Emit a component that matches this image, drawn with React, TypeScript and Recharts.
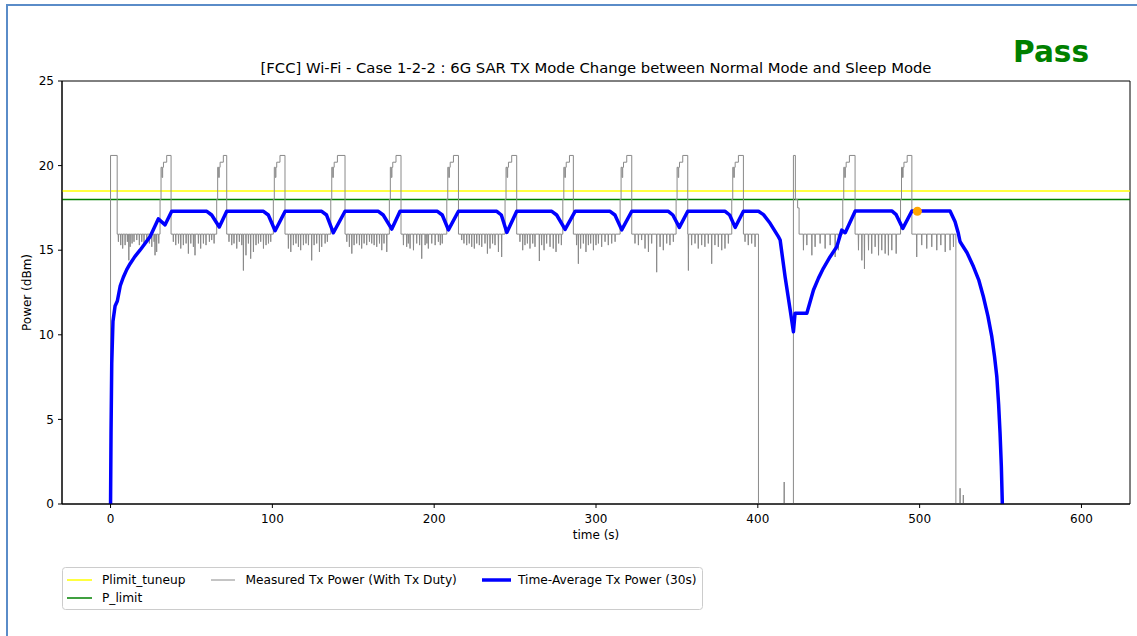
import React from 'react';
import {
  ComposedChart, Line, Scatter, XAxis, YAxis, ReferenceLine, ReferenceArea,
} from 'recharts';

const FONT = 'DejaVu Sans, sans-serif';

const PLIMIT_TUNEUP = 18.5;
const P_LIMIT = 18.0;
const xTicks = [0, 100, 200, 300, 400, 500, 600];
const yTicks = [0, 5, 10, 15, 20, 25];

// Measured Tx power (with Tx duty)
const BASE = 15.95; // normal-mode level between bursts
const firstBurst = { start: 0, end: 4.1, level: 20.6 };
const burstStart = [30.6, 65.6, 100.6, 136.1, 172.3, 207.8, 243.8, 279.5, 314.9, 349.5, 383.9, 452.5, 488.2];
const burstEnd = [37.4, 71.8, 107.8, 144.9, 179.5, 215.0, 251.0, 286.0, 322.1, 356.7, 391.1, 460.1, 495.2];
const burstStepOffset = [0, 0.6, 1.2, 1.6, 2.1, 4.1];
const burstStepLevel = [18.0, 19.9, 19.3, 19.9, 20.2, 20.6];
const offPeriods = [
  { from: 400.4, to: 422.0, back: [[422.0, 20.6], [423.2, 18.0], [424.6, 17.5], [425.5, BASE]] },
  { from: 522.4, to: 531.0, back: [] as number[][] },
];
const offBlips = [[416.3, 1.3], [525.0, 0.93], [527.0, 0.53]];
const dips: number[][] = [
  [4.85, 15.5], [6.3, 15.3], [7.5, 15.1], [9, 15.3], [10.4, 15.5], [11.3, 14.4], [12.1, 15.2], [13.3, 15.4], [14.5, 15.5],
  [16.2, 15.6], [17.8, 15.3], [19.3, 15.5], [20.7, 15.4], [22.4, 15.6], [24, 15.4], [25.5, 15.2], [26.9, 15.5], [27.5, 14.7],
  [28.5, 14.9], [29.8, 15.4],
  [38.8, 15.5], [40.3, 15.3], [42, 15.4], [43.4, 15.1], [45, 15.3], [46.7, 15.4], [48.1, 14.8], [49.6, 15.4], [51.2, 15.2],
  [52.2, 14.7], [54.3, 15.4], [55.7, 15.1], [57.4, 15.4], [59, 15.3], [61.1, 15.5], [62.5, 15.6], [64, 15.4],
  [73.2, 15.5], [74.9, 15.3], [76.3, 15.4], [78, 15.1], [79.6, 15.5], [81.1, 15.3], [82.1, 13.8], [83.7, 14.7], [85.2, 15.4],
  [86.6, 14.5], [88.3, 14.9], [89.9, 15.3], [91.4, 15.4], [92.8, 15.5], [94.5, 15.1], [96.1, 15.3], [97.6, 15.4], [99, 15.5],
  [109.9, 15.1], [111.4, 14.9], [113, 15.3], [114.6, 15.4], [116.1, 15.2], [117.5, 15.0], [119.2, 15.3], [120.8, 15.4],
  [122.3, 15.3], [124.3, 14.4], [125.8, 15.3], [127.4, 15.4], [129.1, 14.9], [130.5, 15.2], [132.6, 15.4], [134, 15.5],
  [146, 15.5], [147.6, 15.2], [149.1, 14.8], [150.5, 15.3], [152.1, 15.4], [153.8, 15.3], [155.2, 15.1], [156.7, 15.4],
  [158.3, 15.3], [160, 15.5], [161.4, 15.4], [162.9, 15.3], [164.5, 15.2], [166.2, 15.4], [167.6, 15.0], [169, 15.4], [170.7, 14.9],
  [181, 15.3], [183, 15.2], [184, 15.4], [185.1, 15.1], [187.2, 15.0], [189.2, 15.4], [191, 15.3], [192.3, 14.5], [194.4, 15.3],
  [195.5, 15.4], [196.4, 15.1], [198.5, 15.4], [200.6, 15.3], [202.6, 15.5], [203.8, 15.3], [205, 15.4],
  [217, 15.6], [218.4, 15.4], [220.1, 15.3], [221.7, 15.4], [223.2, 15.2], [224.8, 15.1], [226.3, 15.4], [227.9, 15.3],
  [229.4, 15.2], [231.4, 15.4], [232.9, 14.8], [234.5, 15.1], [236.1, 15.4], [237.6, 15.3], [239.7, 14.9], [241.7, 14.6],
  [253, 15.5], [254.7, 15.0], [256.1, 15.3], [257.6, 15.4], [259.2, 15.1], [260.9, 15.4], [262.3, 15.2], [265, 14.36],
  [266.4, 15.3], [267.9, 15.0], [269.5, 15.4], [271.6, 15.2], [273.6, 15.1], [275.3, 14.9], [276.9, 15.4], [278.6, 15.3],
  [288, 15.3], [289.1, 14.2], [290.5, 15.1], [292.2, 15.4], [293.8, 14.9], [295.3, 15.3], [296.7, 15.4], [298.4, 15.0],
  [300, 15.3], [301.5, 15.4], [303.5, 15.2], [305.6, 15.5], [307.6, 15.3], [309.7, 15.4], [311.8, 15.5],
  [324.1, 15.4], [326.2, 15.3], [328.2, 15.6], [330.3, 15.1], [332.4, 14.9], [334.4, 15.4], [337.5, 13.7], [339.6, 15.2],
  [341.6, 15.0], [343.7, 15.4], [345.7, 15.3], [347.8, 15.5],
  [357.1, 13.8], [359.1, 15.3], [361.2, 15.4], [363.2, 15.1], [365.3, 15.3], [367.3, 15.2], [369.4, 15.4], [371.5, 14.2],
  [373.5, 15.3], [375.6, 15.2], [377.7, 15.0], [379.7, 15.1], [381.8, 15.4],
  [392.1, 15.5], [394.1, 15.3], [396.2, 15.4], [398.3, 15.2],
  [428.2, 15.0], [430.3, 15.3], [433.4, 14.7], [435.4, 15.2], [438.5, 15.4], [441.6, 15.1], [444.7, 15.3], [447.8, 14.6], [449.8, 15.0],
  [462.2, 15.0], [464.3, 14.4], [465.9, 13.9], [468.4, 15.0], [470.4, 14.8], [472.5, 15.2], [474.6, 14.7], [476.6, 15.0],
  [478.7, 14.8], [480.7, 14.7], [482.8, 15.0], [485.5, 14.8],
  [498.2, 14.6], [501.3, 15.3], [504.4, 15.1], [507.5, 15.2], [510.6, 15.0], [513.1, 15.3], [515.8, 14.9], [518.8, 15.0], [520.9, 15.2],
];

// Time-average Tx power (30s window)
const avgPower: number[][] = [
  [0, 0], [0.3, 4.2], [0.74, 8.3], [1.5, 10.8], [2.8, 11.7], [4.2, 12.0], [6.0, 12.9], [7.9, 13.4], [10.0, 13.85],
  [12.1, 14.2], [15.0, 14.62], [18.2, 15.0], [21.3, 15.4],
  [24.4, 15.8], [29.5, 16.85], [33.7, 16.5], [37.8, 17.3],
  [59.5, 17.3], [62.5, 17.08], [67.2, 16.37], [71.8, 17.3],
  [94.5, 17.3], [97.5, 17.08], [101.7, 16.15], [107.9, 17.3],
  [130.5, 17.3], [133.5, 17.08], [137.7, 16.03], [144.9, 17.3],
  [165.5, 17.3], [168.5, 17.08], [173.8, 16.25], [178.9, 17.3],
  [202, 17.3], [205, 17.08], [208.8, 16.2], [215, 17.3],
  [238.7, 17.3], [241.5, 17.08], [244.9, 16.05], [251, 17.3],
  [272.7, 17.3], [275.7, 17.08], [280.9, 16.23], [287.1, 17.3],
  [308.7, 17.3], [311.7, 17.08], [315.9, 16.2], [322.1, 17.3],
  [344.7, 17.3], [347.5, 17.08], [351.5, 16.35], [356.7, 17.3],
  [379.8, 17.3], [382.6, 17.08], [386, 16.35], [391.1, 17.3],
  [400.4, 17.3], [403.5, 17.1], [407.6, 16.59], [412.7, 15.8], [413.8, 15.6], [416.9, 13.4], [420, 11.47], [422, 10.18],
  [423, 11.27], [430.3, 11.27], [434.4, 12.65], [437.5, 13.35], [440.5, 13.93], [444.6, 14.6], [448.8, 15.2], [451.9, 16.19],
  [454, 16.03], [460.2, 17.32],
  [482.8, 17.32], [485.5, 17.1], [489.6, 16.29], [495.2, 17.32],
  [518.8, 17.32], [521.9, 16.68], [523.9, 16.0], [525, 15.5], [529.3, 14.85], [533.3, 14.02], [536.5, 13.25], [539.4, 12.25],
  [542.2, 11.1], [544.6, 9.89], [546.3, 8.7], [547.7, 7.52], [548.8, 5.9], [549.7, 4.18], [550.5, 2.2], [551.1, 0],
];
const markerPoint = [{ t: 498.6, v: 17.3 }];

type Pt = { t: number; v: number };

function buildMeasured(): Pt[] {
  const pts: Pt[] = [{ t: 0, v: 0 }];
  let cur = 0;
  const stepTo = (t: number, v: number) => {
    pts.push({ t, v: cur });
    pts.push({ t, v });
    cur = v;
  };
  const noise = (a: number, b: number) => {
    dips.filter(([t]) => t > a && t < b).forEach(([t, v]) => {
      pts.push({ t: t - 0.15, v: BASE }, { t, v }, { t: t + 0.15, v: BASE });
    });
  };
  const fillGap = (a: number, b: number) => {
    const off = offPeriods.find((o) => o.from > a && o.from < b);
    if (!off) { noise(a, b); return; }
    noise(a, off.from);
    stepTo(off.from, 0);
    offBlips.filter(([t]) => t > off.from && t < off.to).forEach(([t, v]) => {
      pts.push({ t: t - 0.1, v: 0 }, { t, v }, { t: t + 0.1, v: 0 });
    });
    if (off.back.length) {
      off.back.forEach(([t, v]) => stepTo(t, v));
      noise(off.back[off.back.length - 1][0], b);
    } else {
      pts.push({ t: off.to, v: 0 });
    }
  };

  stepTo(firstBurst.start, firstBurst.level);
  stepTo(firstBurst.end, BASE);
  let from = firstBurst.end;
  burstStart.forEach((s, i) => {
    fillGap(from, s);
    burstStepOffset.forEach((o, k) => stepTo(s + o, burstStepLevel[k]));
    stepTo(burstEnd[i], BASE);
    from = burstEnd[i];
  });
  fillGap(from, 531);
  return pts;
}

const measured = buildMeasured();
const avgData = avgPower.map(([t, v]) => ({ t, v }));

const tickStyle = { fill: '#000', fontSize: 12, fontFamily: FONT };

export default function App() {
  return (
    <div style={{ position: 'absolute', left: 0, top: 0, width: 1137, height: 636, overflow: 'hidden', background: '#fff', fontFamily: FONT }}>
      <div style={{ position: 'absolute', left: 6, top: 4, width: 1300, height: 800, borderLeft: '2px solid #5a8cc8', borderTop: '2px solid #5a8cc8' }} />
      <ComposedChart width={1137} height={636} margin={{ top: 81, right: 7, bottom: 102, left: 0 }}>
        <XAxis
          dataKey="t" type="number" domain={[-30, 630]} ticks={xTicks} allowDataOverflow
          height={30} tick={tickStyle} tickSize={4} tickMargin={6}
          stroke="#000" tickLine={{ stroke: '#000' }} axisLine={{ stroke: '#000' }}
        />
        <YAxis
          type="number" domain={[0, 25]} ticks={yTicks} allowDataOverflow
          width={62} tick={tickStyle} tickSize={4} tickMargin={4}
          stroke="#000" tickLine={{ stroke: '#000' }} axisLine={{ stroke: '#000' }}
        />
        <ReferenceArea x1={-30} x2={630} y1={0} y2={25} fill="none" stroke="#000" strokeWidth={1} />
        <ReferenceLine y={PLIMIT_TUNEUP} stroke="#ffff00" strokeWidth={1.5} />
        <ReferenceLine y={P_LIMIT} stroke="#008000" strokeWidth={1.5} />
        <Line data={measured} dataKey="v" type="linear" stroke="#8a8a8a" strokeWidth={1} dot={false} isAnimationActive={false} />
        <Line data={avgData} dataKey="v" type="linear" stroke="#0000ff" strokeWidth={3.5} strokeLinejoin="round" dot={false} isAnimationActive={false} />
        <Scatter data={markerPoint} dataKey="v" fill="#ffa500" isAnimationActive={false} />
      </ComposedChart>
      <svg width={1137} height={636} style={{ position: 'absolute', left: 0, top: 0, pointerEvents: 'none' }} fontFamily={FONT}>
        <text x={596} y={73} textAnchor="middle" fontSize={14.8} fill="#000">
          [FCC] Wi-Fi - Case 1-2-2 : 6G SAR TX Mode Change between Normal Mode and Sleep Mode
        </text>
        <text x={1013} y={62} fontSize={29.6} fontWeight="bold" fill="#008000">Pass</text>
        <text x={596} y={539} textAnchor="middle" fontSize={12} fill="#000">time (s)</text>
        <text x={30.5} y={292.5} textAnchor="middle" fontSize={12} fill="#000" transform="rotate(-90 30.5 292.5)">Power (dBm)</text>
        <rect x={62.5} y={567.5} width={640} height={42} rx={3} fill="#fff" fillOpacity={0.8} stroke="#cccccc" />
        <line x1={67} x2={92} y1={580} y2={580} stroke="#ffff00" strokeWidth={1.5} />
        <text x={102} y={580} dominantBaseline="central" fontSize={12.2}>Plimit_tuneup</text>
        <line x1={67} x2={92} y1={598} y2={598} stroke="#008000" strokeWidth={1.5} />
        <text x={102} y={598} dominantBaseline="central" fontSize={12.2}>P_limit</text>
        <line x1={211} x2={235} y1={580} y2={580} stroke="#8a8a8a" strokeWidth={1} />
        <text x={245.5} y={580} dominantBaseline="central" fontSize={12.2}>Measured Tx Power (With Tx Duty)</text>
        <line x1={482} x2={511} y1={580} y2={580} stroke="#0000ff" strokeWidth={3.5} />
        <text x={518} y={580} dominantBaseline="central" fontSize={12.2}>Time-Average Tx Power (30s)</text>
      </svg>
    </div>
  );
}
